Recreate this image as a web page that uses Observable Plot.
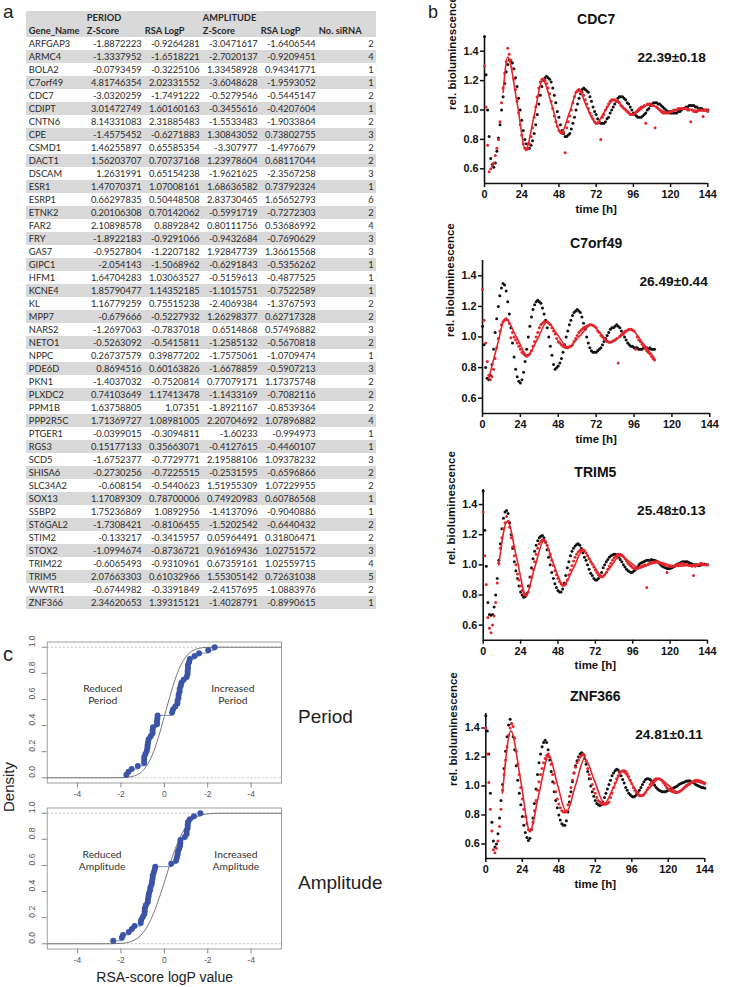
<!DOCTYPE html>
<html><head><meta charset="utf-8">
<script src="https://cdn.jsdelivr.net/npm/d3@7"></script>
<script src="https://cdn.jsdelivr.net/npm/@observablehq/plot@0.6"></script>
<style>
html,body{margin:0;padding:0;background:#fff;}
body{width:731px;height:987px;position:relative;overflow:hidden;font-family:"Liberation Sans",Arial,sans-serif;}
.t{position:absolute;line-height:1;white-space:nowrap;color:#222;font-family:"Liberation Sans",Arial,sans-serif;}
.p{position:absolute;}
</style></head><body>
<div class="t" style="left:3px;top:2px;font-size:19px">a</div>
<div class="t" style="left:428px;top:3px;font-size:18px">b</div>
<div class="t" style="left:3px;top:644px;font-size:20px">c</div>
<div class="t" style="left:8px;top:787px;font-size:15px;transform:translate(-50%,-50%) rotate(-90deg)">Density</div>
<div class="t" style="left:298px;top:706.5px;font-size:19px">Period</div>
<div class="t" style="left:298px;top:872.5px;font-size:19px">Amplitude</div>
<div class="t" style="left:164.7px;top:970px;font-size:14px;transform:translateX(-50%)">RSA-score logP value</div>
<script>
// ---------------- panel a : table ----------------
const genes = ["ARFGAP3","ARMC4","BOLA2","C7orf49","CDC7","CDIPT","CNTN6","CPE","CSMD1","DACT1","DSCAM","ESR1","ESRP1","ETNK2","FAR2","FRY","GAS7","GIPC1","HFM1","KCNE4","KL","MPP7","NARS2","NETO1","NPPC","PDE6D","PKN1","PLXDC2","PPM1B","PPP2R5C","PTGER1","RGS3","SCD5","SHISA6","SLC34A2","SOX13","SSBP2","ST6GAL2","STIM2","STOX2","TRIM22","TRIM5","WWTR1","ZNF366"];
const periodZ = [-1.8872223,-1.3337952,-0.0793459,4.81746354,-3.0320259,3.01472749,8.14331083,-1.4575452,1.46255897,1.56203707,1.2631991,1.47070371,0.66297835,0.20106308,2.10898578,-1.8922183,-0.9527804,-2.054143,1.64704283,1.85790477,1.16779259,-0.679666,-1.2697063,-0.5263092,0.26737579,0.8694516,-1.4037032,0.74103649,1.63758805,1.71369727,-0.0399015,0.15177133,-1.6752377,-0.2730256,-0.608154,1.17089309,1.75236869,-1.7308421,-0.133217,-1.0994674,-0.6065493,2.07663303,-0.6744982,2.34620653];
const periodRSA = [-0.9264281,-1.6518221,-0.3225106,2.02331552,-1.7491222,1.60160163,2.31885483,-0.6271883,0.65585354,0.70737168,0.65154238,1.07008161,0.50448508,0.70142062,0.8892842,-0.9291066,-1.2207182,-1.5068962,1.03063527,1.14352185,0.75515238,-0.5227932,-0.7837018,-0.5415811,0.39877202,0.60163826,-0.7520814,1.17413478,1.07351,1.08981005,-0.3094811,0.35663071,-0.7729771,-0.7225515,-0.5440623,0.78700006,1.0892956,-0.8106455,-0.3415957,-0.8736721,-0.9310961,0.61032966,-0.3391849,1.39315121];
const ampZ = [-3.0471617,-2.7020137,1.33458928,-3.6048628,-0.5279546,-0.3455616,-1.5533483,1.30843052,-3.307977,1.23978604,-1.9621625,1.68636582,2.83730465,-0.5991719,0.80111756,-0.9432684,1.92847739,-0.6291843,-0.5159613,-1.1015751,-2.4069384,1.26298377,0.6514868,-1.2585132,-1.7575061,-1.6678859,0.77079171,-1.1433169,-1.8921167,2.20704692,-1.60233,-0.4127615,2.19588106,-0.2531595,1.51955309,0.74920983,-1.4137096,-1.5202542,0.05964491,0.96169436,0.67359161,1.55305142,-2.4157695,-1.4028791];
const ampRSA = [-1.6406544,-0.9209451,0.94341771,-1.9593052,-0.5445147,-0.4207604,-1.9033864,0.73802755,-1.4976679,0.68117044,-2.3567258,0.73792324,1.65652793,-0.7272303,0.53686992,-0.7690629,1.36615568,-0.5356262,-0.4877525,-0.7522589,-1.3767593,0.62717328,0.57496882,-0.5670818,-1.0709474,-0.5907213,1.17375748,-0.7082116,-0.8539364,1.07896882,-0.994973,-0.4460107,1.09378232,-0.6596866,1.07229955,0.60786568,-0.9040886,-0.6440432,0.31806471,1.02751572,1.02559715,0.72631038,-1.0883976,-0.8990615];
const nSiRNA = [2,4,1,1,2,1,2,3,2,2,3,1,6,2,4,3,3,1,1,1,2,2,3,2,1,3,2,2,2,4,1,1,3,2,2,1,1,2,2,3,4,5,2,1];
const groupHeaders = ["PERIOD","AMPLITUDE"];
const columnHeaders = ["Gene_Name","Z-Score","RSA LogP","Z-Score","RSA LogP","No. siRNA"];

// ---------------- panel b : bioluminescence time series (hourly samples, t = index) ----------------
const timeTicks = [0,24,48,72,96,120,144];
const lumTicks = [0.6,0.8,1.0,1.2,1.4];
const cdc7Black = [1.50,1.24,1.00,0.82,0.67,0.63,0.61,0.64,0.72,0.81, 0.90,1.00,1.09,1.18,1.26,1.31,1.34,1.33,1.32,1.28, 1.22,1.16,1.08,1.00,0.93,0.86,0.80,0.77,0.74,0.74, 0.76,0.79,0.84,0.90,0.97,1.04,1.10,1.16,1.20,1.22, 1.23,1.22,1.21,1.19,1.15,1.10,1.05,0.99,0.95,0.90, 0.86,0.84,0.82,0.82,0.83,0.84,0.87,0.91,0.95,1.00, 1.04,1.08,1.11,1.14,1.15,1.14,1.13,1.12,1.09,1.06, 1.02,0.99,0.97,0.94,0.92,0.91,0.91,0.91,0.92,0.94, 0.95,0.98,1.00,1.02,1.04,1.06,1.08,1.09,1.09,1.09, 1.08,1.07,1.05,1.04,1.02,1.00,0.98,0.97,0.96,0.95, 0.95,0.95,0.96,0.97,0.98,1.00,1.01,1.03,1.04,1.05, 1.05,1.05,1.04,1.04,1.03,1.02,1.01,1.00,0.99,0.99, 0.98,0.98,0.98,0.98,0.98,0.99,0.99,1.00,1.01,1.01, 1.02,1.02,1.03,1.03,1.03,1.03,1.02,1.02,1.01,1.01, 1.01,1.00,1.00,1.00,1.00];
const cdc7Red = [1.30,1.02,0.76,0.58,0.60,0.62,0.64,0.69,0.74,0.80, 0.92,1.05,1.15,1.25,1.33,1.42,1.38,1.34,1.28,1.21, 1.14,1.06,0.98,0.90,0.83,0.77,0.74,0.73,0.74,0.77, 0.82,0.88,0.95,1.02,1.09,1.15,1.19,1.21,1.21,1.20, 1.18,1.15,1.11,1.06,1.01,0.96,0.92,0.89,0.86,0.85, 0.84,0.85,0.71,0.88,0.92,0.96,1.00,1.05,1.09,1.12, 1.13,1.14,1.13,1.12,1.10,1.07,1.04,1.01,0.98,0.96, 0.94,0.92,0.91,0.91,0.92,0.80,0.95,0.97,1.00,1.02, 1.04,1.06,1.07,1.07,1.07,1.06,1.06,1.05,1.03,1.02, 1.01,1.00,0.99,0.98,0.97,0.97,0.97,0.98,0.99,1.00, 1.01,1.02,1.02,1.03,0.91,1.04,1.04,1.04,1.03,1.03, 0.88,1.02,1.01,1.00,0.99,0.98,0.98,0.98,0.98,0.98, 0.99,0.99,1.00,1.00,1.00,1.01,1.01,1.01,1.01,1.01, 1.01,1.00,1.00,0.92,1.00,0.99,0.99,0.99,1.00,1.00, 1.00,0.955,1.00,1.00,0.99];
const cdc7Fit = [[12,1.12],[15,1.36],[21,1.05],[26.5,0.73],[32,0.96],[37.5,1.205],[43.5,1.03],[49.3,0.84],[55,0.99],[60.5,1.14],[66,1.02],[72,0.91],[77.5,0.99],[83.5,1.07],[89.5,1.02],[95.5,0.97],[101,1.005],[106.5,1.04],[112,1.01],[117.5,0.985],[123,0.998],[129,1.01],[135,1.0],[140,0.995],[144,1.0]];
const c7Black = [1.07,0.95,0.80,0.73,0.72,0.75,0.82,0.92,1.03,1.12, 1.20,1.27,1.32,1.35,1.34,1.30,1.23,1.15,1.06,0.96, 0.87,0.79,0.74,0.71,0.70,0.72,0.77,0.84,0.92,1.00, 1.07,1.13,1.18,1.21,1.23,1.24,1.23,1.22,1.19,1.15, 1.11,1.06,1.00,0.94,0.88,0.82,0.79,0.80,0.81,0.83, 0.86,0.90,0.95,1.00,1.04,1.08,1.11,1.14,1.16,1.17, 1.18,1.17,1.16,1.13,1.09,1.05,1.00,0.96,0.93,0.91, 0.90,0.90,0.90,0.91,0.92,0.93,0.95,0.97,0.99,1.01, 1.03,1.05,1.06,1.06,1.07,1.08,1.07,1.06,1.04,1.02, 1.00,0.98,0.96,0.95,0.94,0.94,0.93,0.93,0.93,0.92, 0.92,0.92,0.93,0.93,0.93,0.92,0.93,0.92,0.92,0.92];
const c7Red = [1.31,1.11,0.96,0.84,0.75,0.72,0.74,0.79,0.86,0.93, 0.99,1.04,1.08,1.10,1.11,1.12,1.11,1.09,0.995,1.03, 1.00,0.98,0.96,0.94,0.92,0.90,0.89,0.88,0.875,0.88, 0.89,0.91,0.94,0.97,1.00,1.03,1.06,1.08,1.09,1.10, 1.10,1.10,1.09,1.08,1.06,1.04,1.02,0.99,0.97,0.96, 0.95,0.94,0.935,0.93,0.93,0.935,0.94,0.95,0.97,0.99, 1.01,1.03,1.04,1.05,1.06,1.065,1.07,1.075,1.08,1.08, 1.075,1.07,1.06,1.04,1.03,1.01,1.00,0.99,0.98,0.97, 0.965,0.965,0.97,0.975,0.98,0.99,0.83,1.005,1.015,1.025, 1.035,1.04,1.045,1.05,1.05,1.045,1.04,0.92,1.00,0.98, 0.97,0.955,0.94,0.925,0.91,0.90,0.89,0.875,0.86,0.85];
const c7Fit = [[4,0.73],[9,0.93],[14.5,1.12],[21.5,1.0],[28.5,0.88],[35,0.99],[41,1.10],[47.5,1.015],[54,0.935],[61.5,1.005],[69,1.08],[75,1.02],[81,0.965],[87.5,1.005],[94,1.05],[101.5,0.96],[109,0.86]];
const trim5Black = [1.49,1.23,0.99,0.75,0.67,0.665,0.67,0.72,0.80,0.91, 1.03,1.14,1.24,1.31,1.35,1.36,1.34,1.28,1.20,1.11, 1.02,0.96,0.91,0.86,0.82,0.80,0.785,0.79,0.81,0.86, 0.92,0.98,1.04,1.09,1.13,1.16,1.18,1.19,1.195,1.18, 1.15,1.10,1.05,1.00,0.95,0.91,0.875,0.85,0.83,0.82, 0.82,0.84,0.88,0.93,0.98,1.02,1.06,1.09,1.11,1.125, 1.135,1.14,1.13,1.11,1.08,1.05,1.03,1.00,0.97,0.945, 0.93,0.91,0.90,0.90,0.91,0.93,0.95,0.98,1.00,1.02, 1.035,1.05,1.06,1.065,1.07,1.07,1.065,1.05,1.035,1.02, 1.00,0.985,0.97,0.96,0.955,0.95,0.952,0.96,0.97,0.985, 1.00,1.01,1.015,1.02,1.025,1.03,1.03,1.03,1.035,1.03, 1.03,1.025,1.02,1.01,1.00,0.99,0.985,0.98,0.975,0.975, 0.975,0.98,0.985,0.99,1.00,1.005,1.01,1.015,1.02,1.02, 1.02,1.02,1.015,1.01,1.005,1.00,1.00,1.00,0.995,0.995, 1.00,1.00,1.005,1.00,1.00];
const trim5Red = [1.35,1.06,0.87,0.65,0.58,0.55,0.60,0.66,0.75,0.88, 1.01,1.11,1.18,1.24,1.28,1.32,1.29,1.25,1.18,1.12, 1.06,1.00,0.94,0.90,0.86,0.83,0.81,0.80,0.80,0.82, 0.86,0.92,0.97,1.02,1.07,1.11,1.14,1.155,1.165,1.165, 1.155,1.13,1.10,1.07,1.03,0.995,0.96,0.935,0.91,0.89, 0.875,0.865,0.865,0.875,0.90,0.935,0.965,0.995,1.025,1.05, 1.07,1.085,1.095,1.10,1.10,1.095,1.08,1.06,1.04,1.02, 1.005,0.985,0.965,0.95,0.935,0.925,0.92,0.925,0.935,0.95, 0.97,0.99,1.01,1.03,1.045,1.055,1.065,1.07,1.07,1.065, 1.055,1.04,1.025,1.01,1.00,0.99,0.98,0.975,0.975,0.975, 0.98,0.985,0.99,0.995,1.00,0.85,1.005,1.01,1.015,1.015, 1.02,1.02,1.02,1.015,1.01,1.005,1.00,0.995,0.95,0.99, 0.99,0.99,0.99,0.995,1.00,1.00,1.005,1.005,1.01,1.005, 1.00,1.00,0.995,0.995,0.99,0.93,0.99,0.995,1.00,1.005, 1.01,1.005,1.00,1.00,1.00];
const trim5Fit = [[10,1.0],[15.5,1.29],[21.5,1.045],[27.5,0.80],[33,0.98],[39,1.16],[45,1.01],[51.5,0.865],[58,0.98],[64,1.095],[70,1.01],[76.5,0.925],[82,0.99],[88,1.06],[94,1.02],[100,0.978],[106.5,1.0],[113,1.018],[119,1.0],[125,0.99],[134,1.0],[144,1.0]];
const znfBlack = [1.485,1.38,1.22,0.95,0.75,0.62,0.58,0.60,0.67,0.78, 0.90,1.01,1.12,1.24,1.34,1.42,1.46,1.43,1.34,1.25, 1.14,1.04,0.95,0.87,0.79,0.73,0.68,0.645,0.625,0.64, 0.70,0.78,0.88,0.98,1.08,1.16,1.22,1.27,1.30,1.315, 1.30,1.25,1.18,1.10,1.03,0.96,0.90,0.85,0.80,0.765, 0.74,0.73,0.73,0.76,0.82,0.89,0.96,1.03,1.09,1.14, 1.175,1.20,1.22,1.23,1.22,1.19,1.15,1.10,1.05,1.00, 0.96,0.93,0.90,0.88,0.87,0.865,0.87,0.89,0.92,0.95, 0.98,1.01,1.04,1.07,1.09,1.105,1.115,1.11,1.095,1.07, 1.045,1.02,0.99,0.97,0.95,0.94,0.93,0.925,0.93,0.94, 0.955,0.97,0.99,1.01,1.03,1.045,1.05,1.05,1.045,1.035, 1.02,1.005,0.99,0.98,0.97,0.965,0.96,0.96,0.96,0.965, 0.97,0.975,0.98,0.985,0.99,0.995,1.00,1.01,1.015,1.02, 1.025,1.03,1.035,1.035,1.036,1.03,1.025,1.02,1.01,1.005, 1.00,0.995,0.99,0.99,0.985];
const znfRed = [1.40,1.22,1.025,0.84,0.69,0.56,0.54,0.57,0.62,0.72, 0.84,0.97,1.08,1.18,1.27,1.35,1.40,1.43,1.41,1.33, 1.24,1.15,1.08,0.99,0.91,0.84,0.79,0.74,0.70,0.69, 0.70,0.75,0.83,0.90,0.97,1.03,1.08,1.12,1.16,1.19, 1.21,1.22,1.20,1.15,1.08,1.02,0.96,0.91,0.876,0.85, 0.83,0.82,0.82,0.83,0.87,0.93,0.99,1.04,1.09,1.13, 1.16,1.18,1.20,1.21,1.22,1.21,1.17,1.12,1.08,1.05, 1.01,0.98,0.95,0.92,0.90,0.89,0.88,0.875,0.875,0.876, 0.88,0.89,0.92,0.95,0.99,1.02,1.05,1.07,1.09,1.10, 1.105,1.105,1.10,1.085,1.065,1.04,1.015,0.99,0.97,0.955, 0.94,0.935,0.933,0.935,0.94,0.955,0.975,0.99,1.01,1.025, 1.035,1.045,1.05,1.05,1.05,1.045,1.035,1.02,1.005,0.99, 0.98,0.97,0.965,0.96,0.957,0.956,0.956,0.96,0.965,0.975, 0.985,0.995,1.005,1.01,1.02,1.025,1.03,1.035,1.04,1.04, 1.037,1.035,1.03,1.025,1.02];
const znfFit = [[11,0.95],[16.5,1.38],[23,1.035],[29,0.69],[35,0.95],[41.5,1.21],[47,1.015],[53,0.82],[59,1.005],[65,1.19],[71.5,1.035],[78,0.88],[84,0.99],[90,1.10],[96,1.018],[102,0.935],[108,0.99],[114,1.05],[120,1.005],[126,0.96],[132,0.995],[138,1.03],[144,1.01]];

// ---------------- panel c : ECDF of RSA logP values ----------------
const rsaTicks = [-4,-2,0,2,4];
const densityTicks = [0,0.2,0.4,0.6,0.8,1.0];
const refCurveX = [-5.4,-3,-2.5,-2,-1.5,-1.25,-1,-0.75,-0.5,-0.25,0,0.25,0.5,0.75,1,1.25,1.5,2,2.5,3,5.4];
const periodRefY = [0,0,0,0.001,0.009,0.023,0.053,0.109,0.198,0.323,0.47,0.62,0.755,0.86,0.928,0.968,0.987,0.999,1,1,1];
const ampRefY = [0,0,0.0003,0.003,0.019,0.042,0.081,0.143,0.232,0.345,0.47,0.606,0.726,0.824,0.897,0.945,0.973,0.995,0.9995,1,1];
const periodNotes = [{x:-2.84,y:0.64,s:"Reduced\nPeriod"},{x:3.16,y:0.64,s:"Increased\nPeriod"}];
const ampNotes = [{x:-2.87,y:0.64,s:"Reduced\nAmplitude"},{x:3.3,y:0.64,s:"Increased\nAmplitude"}];

// ---------------- helpers ----------------
function place(el, left, top){
  const d = document.createElement("div");
  d.className = "p"; d.style.left = left + "px"; d.style.top = top + "px";
  d.appendChild(el); document.body.appendChild(d);
}

// ---------------- table ----------------
const colKeys = ["gene","pz","pr","az","ar","n"];
const rowKeys = ["h1","h2"].concat(genes);
const shadedRows = rowKeys.filter((r,i)=> i < 2 || i % 2 === 1);
const headCells = [{r:"h1",c:"pz",s:groupHeaders[0]},{r:"h1",c:"az",s:groupHeaders[1]}]
  .concat(colKeys.map((c,i)=>({r:"h2",c,s:columnHeaders[i]})));
const geneCells = genes.map(g=>({r:g,c:"gene",s:g}));
const valueCells = genes.flatMap((g,i)=>[
  {r:g,c:"pz",s:String(periodZ[i])},{r:g,c:"pr",s:String(periodRSA[i])},
  {r:g,c:"az",s:String(ampZ[i])},{r:g,c:"ar",s:String(ampRSA[i])},{r:g,c:"n",s:String(nSiRNA[i])}]);
const tfont = {fontSize:9.3, fill:"#2a2a2a"};
const table = Plot.plot({
  width:380, height:622, marginLeft:26, marginRight:4, marginTop:0, marginBottom:2,
  x:{type:"band", domain:colKeys, padding:0, axis:null},
  y:{type:"band", domain:rowKeys, padding:0, axis:null},
  style:"background:transparent;max-width:none;font-family:Lato,sans-serif;overflow:visible;",
  marks:[
    Plot.cell(shadedRows,{y:d=>d, fill:"#d9d9d9", inset:0}),
    Plot.text(headCells,{x:"c",y:"r",text:"s",textAnchor:"start",dx:-27.7,fontWeight:"bold",...tfont}),
    Plot.text(geneCells,{x:"c",y:"r",text:"s",textAnchor:"start",dx:-27.7,...tfont}),
    Plot.text(valueCells,{x:"c",y:"r",text:"s",textAnchor:"end",dx:27.2,...tfont})
  ]
});
place(table, 0, 0);

// ---------------- time series panels ----------------
const panels = [
  {title:"CDC7", per:"22.39±0.18", black:cdc7Black, red:cdc7Red, fit:cdc7Fit, top:0, ml:44, mr:12.7, fh:147},
  {title:"C7orf49", per:"26.49±0.44", black:c7Black, red:c7Red, fit:c7Fit, top:223.8, ml:42, mr:10.7, fh:153},
  {title:"TRIM5", per:"25.48±0.13", black:trim5Black, red:trim5Red, fit:trim5Fit, top:453.3, ml:42.7, mr:13, fh:150.7},
  {title:"ZNF366", per:"24.81±0.11", black:znfBlack, red:znfRed, fit:znfFit, top:676.8, ml:45.3, mr:15.7, fh:145}
];
const RED = "#e3262b";
panels.forEach(p=>{
  const bl = p.black.map((v,t)=>({t,v}));
  const rd = p.red.map((v,t)=>({t,v}));
  const chart = Plot.plot({
    width:280, height:36 + p.fh + 46, marginTop:36, marginBottom:46, marginLeft:p.ml, marginRight:p.mr,
    style:"background:transparent;max-width:none;overflow:visible;font-family:'Liberation Sans',Arial,sans-serif;font-weight:bold;font-size:10.8px;color:#111;",
    x:{domain:[0,144]},
    y:{domain:[0.5,1.5]},
    marks:[
      Plot.axisX({ticks:timeTicks, tickSize:4, tickPadding:3, label:null, strokeWidth:1.5, fontSize:10.8}),
      Plot.axisY({ticks:lumTicks, tickSize:4, tickPadding:2, tickFormat:d3.format(".1f"), label:null, strokeWidth:1.5, fontSize:10.8}),
      Plot.ruleX([0],{strokeWidth:1.6, stroke:"#111"}),
      Plot.ruleY([0.5],{strokeWidth:1.6, stroke:"#111"}),
      Plot.dot(bl,{x:"t",y:"v",r:1.5,fill:"#111"}),
      Plot.dot(rd,{x:"t",y:"v",r:1.5,fill:RED}),
      Plot.line(p.fit,{x:d=>d[0],y:d=>d[1],stroke:RED,strokeWidth:1.6,curve:"monotone-x"}),
      Plot.text([p.title],{frameAnchor:"top",dy:-22,fontSize:14,fontWeight:"bold",fill:"#111"}),
      Plot.text([p.per],{frameAnchor:"top-right",textAnchor:"end",dx:-2,dy:15.5,fontSize:13.7,fontWeight:"bold",fill:"#111"}),
      Plot.text(["time [h]"],{frameAnchor:"bottom",dy:29,fontSize:11.5,fontWeight:"bold",fill:"#111"}),
      Plot.text(["rel. bioluminescence"],{frameAnchor:"left",rotate:-90,dx:-32,fontSize:11.5,fontWeight:"bold",fill:"#111"})
    ]
  });
  place(chart, 440, p.top);
});

// ---------------- ECDF panels ----------------
function ecdfPanel(values, refY, notes){
  const sorted = values.slice().sort((a,b)=>a-b);
  const pts = sorted.map((x,i)=>({x, y:(i+1)/sorted.length}));
  const ref = refCurveX.map((x,i)=>({x, y:refY[i]}));
  return Plot.plot({
    width:290, height:179, marginTop:11.5, marginBottom:26.5, marginLeft:46.7, marginRight:9,
    style:"background:transparent;max-width:none;overflow:visible;font-family:'Liberation Sans',Arial,sans-serif;font-size:8.5px;color:#555;",
    x:{domain:[-5.4,5.4]},
    y:{domain:[-0.04,1.04]},
    marks:[
      Plot.ruleY([0,1],{stroke:"#aaa",strokeDasharray:"2,2",strokeWidth:0.8}),
      Plot.line(ref,{x:"x",y:"y",stroke:"#555",strokeWidth:0.8,curve:"monotone-x"}),
      Plot.line(pts,{x:"x",y:"y",stroke:"#7f8fc6",strokeWidth:1,curve:"step-after"}),
      Plot.dot(pts,{x:"x",y:"y",r:3,fill:"#3b54a6"}),
      Plot.frame({stroke:"#888",strokeWidth:0.8}),
      Plot.axisX({ticks:rsaTicks, tickFormat:d=> d===0 ? "0" : "-" + Math.abs(d), tickSize:5, tickPadding:3, label:null, stroke:"#888", fill:"#555", fontSize:8.5}),
      Plot.axisY({ticks:densityTicks, tickFormat:()=>"", tickSize:5, label:null, stroke:"#888"}),
      Plot.text(densityTicks,{y:d=>d, text:d3.format(".1f"), frameAnchor:"left", rotate:-90, dx:-15, fontSize:8.5, fill:"#555"}),
      Plot.text(notes,{x:"x",y:"y",text:"s",fontFamily:"Lato,sans-serif",fontSize:10.3,lineHeight:1.2,fill:"#333"})
    ]
  });
}
place(ecdfPanel(periodRSA, periodRefY, periodNotes), 0, 630);
place(ecdfPanel(ampRSA, ampRefY, ampNotes), 0, 795.5);
</script>
</body></html>
